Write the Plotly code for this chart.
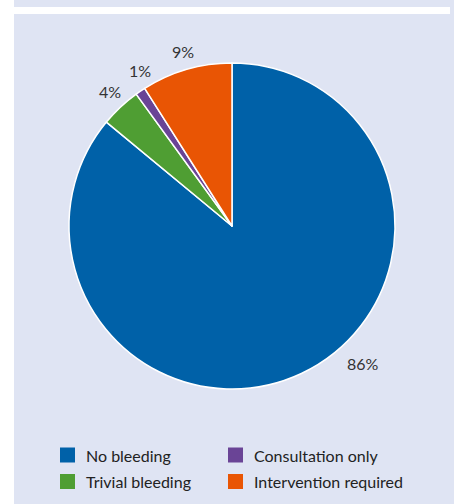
import plotly.graph_objects as go

# Bleeding outcome shares (percent)
categories = ["No bleeding", "Trivial bleeding", "Consultation only", "Intervention required"]
shares = [86, 4, 1, 9]
slice_colors = ["#0061a8", "#4f9e33", "#6a4496", "#e95504"]
# label anchor positions (px) for the percentage captions
label_px = [(363, 363), (109.5, 91.5), (140, 70.5), (182.5, 51.5)]

W, H = 454, 504
BG = "#dfe4f3"
FONT = "Lato"


def px_x(x):
    return x / W


def px_y(y):
    return 1 - y / H


fig = go.Figure()

cx, cy, r = 232, 226, 163
fig.add_trace(go.Pie(
    labels=categories,
    values=shares,
    sort=False,
    direction="clockwise",
    rotation=0,
    marker=dict(colors=slice_colors, line=dict(color="white", width=1.5)),
    textinfo="none",
    hoverinfo="label+percent",
    showlegend=False,
    domain=dict(x=[px_x(cx - r), px_x(cx + r)], y=[px_y(cy + r), px_y(cy - r)]),
))

shapes = [
    # panel background
    dict(type="rect", xref="paper", yref="paper", x0=px_x(14), x1=1, y0=0, y1=1,
         fillcolor=BG, line=dict(width=0), layer="below"),
    # white separator strip at the top
    dict(type="rect", xref="paper", yref="paper", x0=px_x(14), x1=px_x(450),
         y0=px_y(14), y1=px_y(7), fillcolor="white", line=dict(width=0), layer="below"),
]

annotations = []
for (lx, ly), v in zip(label_px, shares):
    annotations.append(dict(
        x=px_x(lx), y=px_y(ly), xref="paper", yref="paper",
        text=f"{v}%", showarrow=False, xanchor="center", yanchor="middle",
        font=dict(family=FONT, size=16, color="#333333"),
    ))

# legend: two columns, two rows
legend_cols = [60, 228]
legend_rows = [455, 481.5]
legend_order = [(0, 0), (1, 0), (0, 1), (1, 1)]  # (row, col) per category
sq = 15
for (row, col), name, color in zip(legend_order, categories, slice_colors):
    x0 = legend_cols[col]
    yc = legend_rows[row]
    shapes.append(dict(
        type="rect", xref="paper", yref="paper",
        x0=px_x(x0), x1=px_x(x0 + sq), y0=px_y(yc + sq / 2), y1=px_y(yc - sq / 2),
        fillcolor=color, line=dict(width=0),
    ))
    annotations.append(dict(
        x=px_x(x0 + sq + 9), y=px_y(yc), xref="paper", yref="paper",
        text=name, showarrow=False, xanchor="left", yanchor="middle",
        font=dict(family=FONT, size=16, color="#222222"),
    ))

fig.update_layout(
    width=W, height=H,
    margin=dict(l=0, r=0, t=0, b=0),
    paper_bgcolor="white",
    plot_bgcolor="white",
    shapes=shapes,
    annotations=annotations,
)

fig.write_html("out.html")
